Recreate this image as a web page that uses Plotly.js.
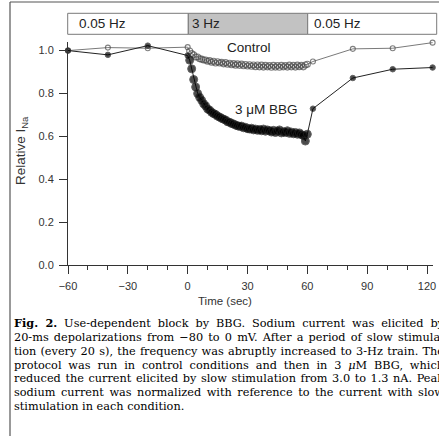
<!DOCTYPE html>
<html>
<head>
<meta charset="utf-8">
<script src="https://cdn.plot.ly/plotly-3.0.1.min.js"></script>
<style>
  html, body { margin: 0; padding: 0; background: #fff; }
  #chart { width: 439px; height: 436px; }
</style>
</head>
<body>
<div id="chart"></div>
<script>
// ---- data ----
const tSlowPre = [-60, -40, -20, 0];
const controlPre = [1.000, 1.014, 1.011, 1.016];
const bbgPre = [1.000, 0.980, 1.023, 0.977];

const tTrain = [1,2,3,4,5,6,7,8,9,10,11,12,13,14,15,16,17,18,19,20,
  21,22,23,24,25,26,27,28,29,30,31,32,33,34,35,36,37,38,39,40,
  41,42,43,44,45,46,47,48,49,50,51,52,53,54,55,56,57,58,59,60];
const controlTrain = [0.998,0.986,0.980,0.970,0.970,0.962,0.960,0.956,0.956,0.950,
  0.953,0.946,0.950,0.942,0.948,0.942,0.945,0.938,0.944,0.936,
  0.941,0.934,0.939,0.932,0.938,0.931,0.937,0.929,0.935,0.928,
  0.934,0.927,0.933,0.925,0.933,0.924,0.932,0.923,0.931,0.924,
  0.930,0.922,0.931,0.923,0.930,0.922,0.931,0.924,0.930,0.923,
  0.932,0.924,0.931,0.923,0.932,0.925,0.931,0.924,0.933,0.936];
const bbgTrain = [0.955,0.915,0.865,0.830,0.800,0.782,0.768,0.752,0.742,0.728,
  0.722,0.712,0.706,0.702,0.694,0.690,0.684,0.680,0.676,0.668,
  0.666,0.660,0.658,0.652,0.650,0.646,0.648,0.640,0.642,0.636,
  0.634,0.638,0.630,0.634,0.628,0.632,0.626,0.634,0.624,0.630,
  0.626,0.620,0.628,0.618,0.624,0.630,0.616,0.622,0.618,0.626,
  0.614,0.620,0.612,0.618,0.610,0.616,0.608,0.604,0.578,0.610];

const tSlowPost = [62.8, 82.8, 102.8, 122.8];
const controlPost = [0.949, 1.008, 1.011, 1.037];
const bbgPost = [0.729, 0.872, 0.913, 0.921];

const xTicks = [-60, -30, 0, 30, 60, 90, 120];
const yTicks = [0.0, 0.2, 0.4, 0.6, 0.8, 1.0];
const phaseLabels = ["0.05 Hz", "3 Hz", "0.05 Hz"];
const seriesLabels = ["Control", "3 \u03bcM BBG"];
const captionLines = [
  "<b>Fig. 2.</b> Use-dependent block by BBG. Sodium current was elicited by",
  "20-ms depolarizations from \u221280 to 0 mV. After a period of slow stimula-",
  "tion (every 20 s), the frequency was abruptly increased to 3-Hz train. The",
  "protocol was run in control conditions and then in 3 <i>\u03bc</i>M BBG, which",
  "reduced the current elicited by slow stimulation from 3.0 to 1.3 nA. Peak",
  "sodium current was normalized with reference to the current with slow",
  "stimulation in each condition."
];

// ---- layout geometry (pixels) ----
const W = 439, H = 436;
const M = {l: 68, r: 6, t: 42, b: 171};
const PW = W - M.l - M.r, PH = H - M.t - M.b;
const px = x => (x - M.l) / PW;          // page px -> paper x
const py = y => (H - M.b - y) / PH;      // page px -> paper y

const SANS = "Liberation Sans, Arial, sans-serif";
const SERIF = "DejaVu Serif, serif";

// marker sizes: small for slow stimulation, larger for the dense 3-Hz train
const sizesCtl = [], sizesBbg = [];
tSlowPre.forEach(() => { sizesCtl.push(5); sizesBbg.push(5.5); });
tTrain.forEach(() => { sizesCtl.push(6); sizesBbg.push(8); });
tSlowPost.forEach(() => { sizesCtl.push(5); sizesBbg.push(5.5); });

const traces = [
  {
    x: tSlowPre.concat(tTrain, tSlowPost),
    y: controlPre.concat(controlTrain, controlPost),
    mode: "lines+markers",
    type: "scatter",
    cliponaxis: false,
    line: {color: "#7a7a7a", width: 1},
    marker: {symbol: "circle-open", size: sizesCtl, color: "#4a4a4a", line: {width: 1.1, color: "#4a4a4a"}},
    hoverinfo: "skip"
  },
  {
    x: tSlowPre.concat(tTrain, tSlowPost),
    y: bbgPre.concat(bbgTrain, bbgPost),
    mode: "lines+markers",
    type: "scatter",
    cliponaxis: false,
    line: {color: "#222", width: 1},
    marker: {symbol: "circle", size: sizesBbg, color: "#000"},
    hoverinfo: "skip"
  }
];

// top frequency bar
const barY0 = 13.3, barY1 = 34.3;
const barX = [67.7, 188.3, 307.7, 436.7];
const barFill = ["#ffffff", "#c2c2c2", "#ffffff"];
const shapes = [];
for (let i = 0; i < 3; i++) {
  shapes.push({type: "rect", xref: "paper", yref: "paper",
    x0: px(barX[i]), x1: px(barX[i+1]), y0: py(barY1), y1: py(barY0),
    fillcolor: barFill[i], line: {color: "#7a7a7a", width: 1}, layer: "above"});
}
// outer frame (top and left edge)
shapes.push({type: "line", xref: "paper", yref: "paper", x0: px(10), x1: px(440), y0: py(2), y1: py(2), line: {color: "#555", width: 1.2}});
shapes.push({type: "line", xref: "paper", yref: "paper", x0: px(10), x1: px(10), y0: py(2), y1: py(437), line: {color: "#555", width: 1.2}});

const annotations = [];
const phaseTextX = [76.5, 190, 311.5];
phaseLabels.forEach((t, i) => annotations.push({
  text: t, xref: "paper", yref: "paper", x: px(phaseTextX[i]), y: py(24),
  xanchor: "left", yanchor: "middle", showarrow: false,
  font: {family: SANS, size: 13.5, color: "#222"}
}));
annotations.push({text: seriesLabels[0], xref: "paper", yref: "paper", x: px(225), y: py(48),
  xanchor: "left", yanchor: "middle", showarrow: false, font: {family: SANS, size: 13.5, color: "#222"}});
annotations.push({text: seriesLabels[1], xref: "paper", yref: "paper", x: px(233), y: py(109.5),
  xanchor: "left", yanchor: "middle", showarrow: false, font: {family: SANS, size: 13.5, color: "#222"}});
// axis titles
annotations.push({text: "Relative I<sub>Na</sub>", xref: "paper", yref: "paper", x: px(21), y: py(151),
  textangle: -90, xanchor: "center", yanchor: "middle", showarrow: false,
  font: {family: SANS, size: 13.5, color: "#333"}});
annotations.push({text: "Time (sec)", xref: "paper", yref: "paper", x: px(224.5), y: py(300.5),
  xanchor: "center", yanchor: "middle", showarrow: false,
  font: {family: SANS, size: 11.5, color: "#333"}});
// caption
const capStart = annotations.length;
captionLines.forEach((t, i) => annotations.push({
  text: t, xref: "paper", yref: "paper", x: px(12), y: py(323.3 + 13.9 * i),
  xanchor: "left", yanchor: "middle", showarrow: false, align: "left",
  font: {family: SERIF, size: 11.3, color: "#000"}
}));

const layout = {
  width: W, height: H,
  margin: M,
  paper_bgcolor: "#fff", plot_bgcolor: "#fff",
  showlegend: false,
  xaxis: {
    range: [-60, 123], tickvals: xTicks, ticks: "outside", ticklen: 8, tickwidth: 1,
    tickcolor: "#333", showline: true, linecolor: "#333", linewidth: 1,
    showgrid: false, zeroline: false, ticklabelstandoff: 3,
    tickfont: {family: SANS, size: 11, color: "#333"},
    minor: {dtick: 10, ticks: "outside", ticklen: 4, tickcolor: "#333", tickwidth: 1, showgrid: false}
  },
  yaxis: {
    range: [0, 1.04], tickvals: yTicks, tickformat: ".1f", ticks: "outside", ticklen: 8, tickwidth: 1,
    tickcolor: "#333", showline: true, linecolor: "#333", linewidth: 1,
    showgrid: false, zeroline: false, ticklabelstandoff: 3,
    tickfont: {family: SANS, size: 11, color: "#333"}
  },
  shapes: shapes,
  annotations: annotations
};

Plotly.newPlot("chart", traces, layout, {staticPlot: true}).then(gd => {
  // justify caption lines (all but the last) to a common right edge
  const target = 442 - 12;
  const groups = gd.querySelectorAll(".annotation");
  groups.forEach(g => {
    const idx = +g.getAttribute("data-index");
    if (idx < capStart || idx >= capStart + captionLines.length - 1) return;
    const txt = g.querySelector(".annotation-text");
    if (!txt) return;
    const len = txt.getComputedTextLength();
    const spaces = (txt.textContent.match(/ /g) || []).length;
    if (spaces > 0 && len < target) {
      txt.style.wordSpacing = ((target - len) / spaces) + "px";
    }
  });
});
</script>
</body>
</html>
